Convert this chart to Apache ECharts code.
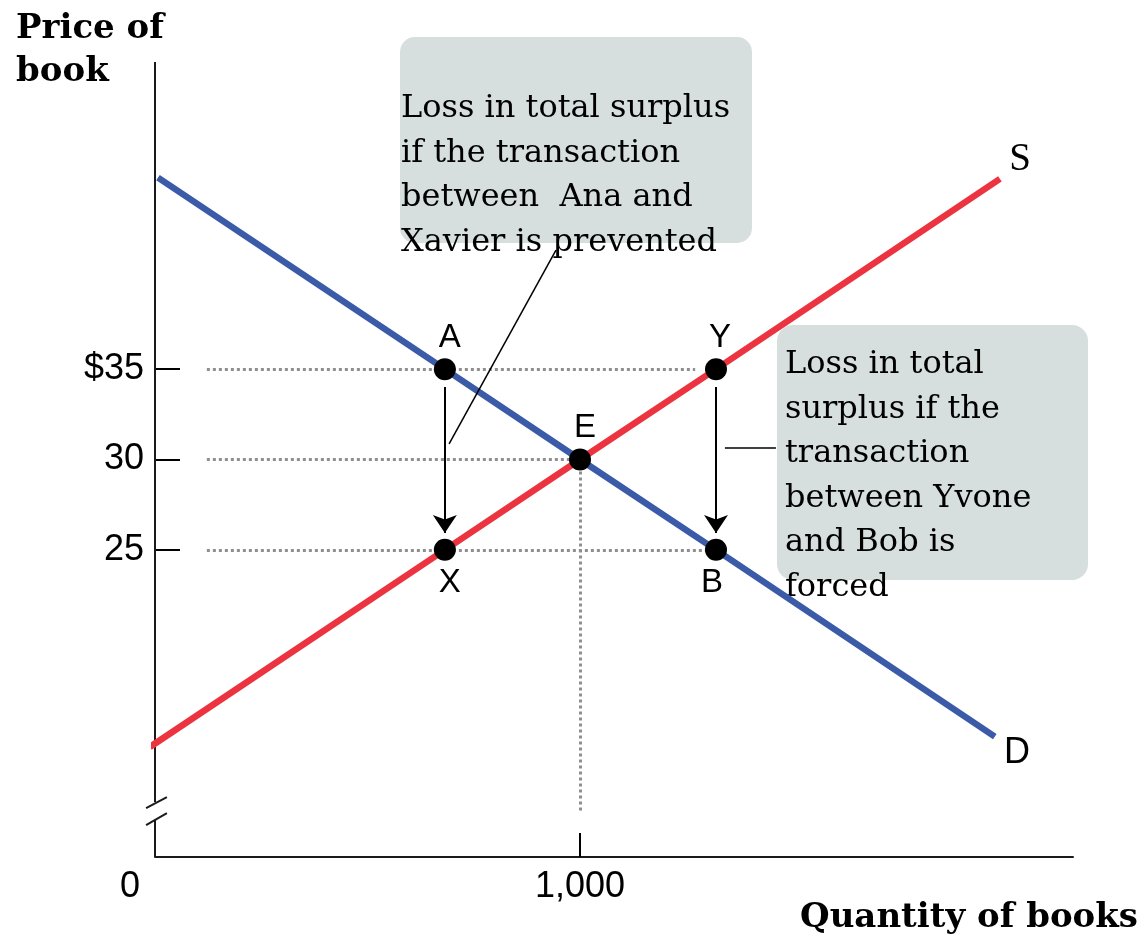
<!DOCTYPE html>
<html>
<head>
<meta charset="utf-8">
<script src="https://cdn.jsdelivr.net/npm/echarts@6/dist/echarts.min.js"></script>
<style>
html,body{margin:0;padding:0;background:#fff;}
#c{width:1144px;height:940px;}
</style>
</head>
<body>
<div id="c"></div>
<script>
// ---- data ----
const priceTicks = [25, 30, 35];
const quantityTicks = [0, 1000];
const quantityTickMarks = [1000];
const demandQ = [7, 682, 1000, 1320, 1976];
const demandP = [45.6, 35, 30, 25, 14.66];
const supplyQ = [-12, 682, 1000, 1320, 1988];
const supplyP = [14.09, 25, 30, 35, 45.53];
const pointNames = ['A', 'X', 'E', 'Y', 'B'];
const pointQ = [682, 682, 1000, 1320, 1320];
const pointP = [35, 25, 30, 35, 25];
// dotted guide segments: [q1, p1, q2, p2]
const guideSegs = [
  [122, 35, 1271, 35],
  [122, 30, 1000, 30],
  [122, 25, 1320, 25],
  [1000, 30, 1000, 10.43]
];
// arrows (from -> to), in data units
const arrowSegs = [
  [682, 34.01, 682, 25.93],
  [1320, 34.01, 1320, 25.93]
];
// leader lines from arrows to callout boxes
const leaderSegs = [
  [692, 30.86, 943.5, 41.59],
  [1341, 30.63, 1461, 30.63]
];
// broken y axis pieces and break marks
const axisSegs = [
  [0, 52, 0, 11.04],
  [0, 10.05, 0, 8]
];
const breakSegs = [
  [-21, 10.71, 28, 11.32],
  [-21, 9.77, 28, 10.43]
];
const note1 = ['Loss in total surplus', 'if the transaction', 'between  Ana and', 'Xavier is prevented'];
const note2 = ['Loss in total', 'surplus if the', 'transaction', 'between Yvone', 'and Bob is', 'forced'];

// ---- helpers ----
const toPairs = (qs, ps) => qs.map((q, i) => [q, ps[i]]);
const toLines = segs => segs.map(s => ({coords: [[s[0], s[1]], [s[2], s[3]]]}));

const SANS = '"Liberation Sans", Arial, sans-serif';
const SERIF = '"DejaVu Serif", serif';
const labelPos = {A: 'top', E: 'top', Y: 'top', X: 'bottom', B: 'bottom'};
const labelOff = {A: [5, 0], E: [5, 0], Y: [4, 0], X: [5, 2], B: [-4, 2]};

const chart = echarts.init(document.getElementById('c'), null, {renderer: 'canvas'});

const graphics = [];
graphics.push({type: 'rect', shape: {x: 400, y: 37, width: 352, height: 206, r: 15}, style: {fill: '#d6dfdd'}, z: 1});
graphics.push({type: 'rect', shape: {x: 777, y: 325, width: 311, height: 255, r: 16}, style: {fill: '#d6dfdd'}, z: 1});
note1.forEach((t, i) => graphics.push({type: 'text', x: 401, y: 109 + i * 44.5, z: 2,
  style: {text: t, fontFamily: SERIF, fontSize: 32, fill: '#000', verticalAlign: 'middle', align: 'left'}}));
note2.forEach((t, i) => graphics.push({type: 'text', x: 785, y: 365 + i * 44.5, z: 2,
  style: {text: t, fontFamily: SERIF, fontSize: 32, fill: '#000', verticalAlign: 'middle', align: 'left'}}));
graphics.push({type: 'text', x: 16, y: 29, z: 2, style: {text: 'Price of', fontFamily: SERIF, fontWeight: 'bold', fontSize: 34, fill: '#000', verticalAlign: 'middle'}});
graphics.push({type: 'text', x: 16, y: 72, z: 2, style: {text: 'book', fontFamily: SERIF, fontWeight: 'bold', fontSize: 34, fill: '#000', verticalAlign: 'middle'}});
graphics.push({type: 'text', x: 1138, y: 918, z: 2, style: {text: 'Quantity of books', fontFamily: SERIF, fontWeight: 'bold', fontSize: 34, fill: '#000', verticalAlign: 'middle', align: 'right'}});
graphics.push({type: 'text', x: 1020, y: 160, z: 2, style: {text: 'S', fontFamily: '"Liberation Serif", serif', fontSize: 39, fill: '#000', verticalAlign: 'middle', align: 'center'}});
graphics.push({type: 'text', x: 1017, y: 753, z: 2, style: {text: 'D', fontFamily: SANS, fontSize: 36, fill: '#000', verticalAlign: 'middle', align: 'center'}});

const option = {
  animation: false,
  backgroundColor: '#fff',
  grid: {left: 155, right: 71, top: 62, bottom: 83},
  xAxis: {
    type: 'value', min: 0, max: 2160,
    splitLine: {show: false},
    axisLine: {show: true, onZero: false, lineStyle: {color: '#1a1a1a', width: 2}},
    axisTick: {show: true, customValues: quantityTickMarks, inside: true, length: 24, lineStyle: {color: '#000', width: 2}},
    axisLabel: {
      customValues: quantityTicks, margin: 12, fontSize: 36, fontFamily: SANS, color: '#000',
      formatter: v => v === 0 ? '{z|0}' : (v / 1000).toFixed(0) + ',000',
      rich: {z: {padding: [0, 50, 0, 0], fontSize: 36, fontFamily: SANS, color: '#000'}}
    }
  },
  yAxis: {
    type: 'value', min: 8, max: 52,
    splitLine: {show: false},
    axisLine: {show: false},
    axisTick: {show: true, customValues: priceTicks, inside: true, length: 25, lineStyle: {color: '#000', width: 2}},
    axisLabel: {customValues: priceTicks, margin: 11, fontSize: 36, fontFamily: SANS, color: '#000',
      formatter: v => v === 35 ? '$35' : String(v)}
  },
  graphic: graphics,
  series: [
    {type: 'lines', coordinateSystem: 'cartesian2d', clip: false, z: 2, silent: true,
      lineStyle: {color: '#1a1a1a', width: 2, opacity: 1}, data: toLines(axisSegs)},
    {type: 'lines', coordinateSystem: 'cartesian2d', clip: false, z: 2, silent: true,
      lineStyle: {color: '#1a1a1a', width: 2, opacity: 1}, data: toLines(breakSegs)},
    {type: 'lines', coordinateSystem: 'cartesian2d', clip: false, z: 2, silent: true,
      lineStyle: {color: '#8f8f8f', width: 3, type: [3, 3], opacity: 1}, data: toLines(guideSegs)},
    {type: 'line', name: 'D', clip: false, z: 3, showSymbol: false, symbol: 'none',
      lineStyle: {color: '#3b5ba9', width: 6.5}, data: toPairs(demandQ, demandP)},
    {type: 'line', name: 'S', clip: false, z: 4, showSymbol: false, symbol: 'none',
      lineStyle: {color: '#ec3340', width: 6.5}, data: toPairs(supplyQ, supplyP)},
    {type: 'lines', coordinateSystem: 'cartesian2d', clip: false, z: 5, silent: true,
      symbol: ['none', 'arrow'], symbolSize: [12, 18],
      lineStyle: {color: '#000', width: 2, opacity: 1}, data: toLines(arrowSegs)},
    {type: 'lines', coordinateSystem: 'cartesian2d', clip: false, z: 5, silent: true,
      lineStyle: {color: '#000', width: 1.5, opacity: 1}, data: toLines(leaderSegs)},
    {type: 'scatter', z: 6, symbolSize: 22, itemStyle: {color: '#000', opacity: 1},
      data: pointNames.map((n, i) => ({
        value: [pointQ[i], pointP[i]],
        label: {show: true, formatter: n, position: labelPos[n], offset: labelOff[n], distance: 4,
          fontSize: 33, fontFamily: SANS, color: '#000', opacity: 1}
      }))}
  ]
};
chart.setOption(option);
</script>
</body>
</html>
